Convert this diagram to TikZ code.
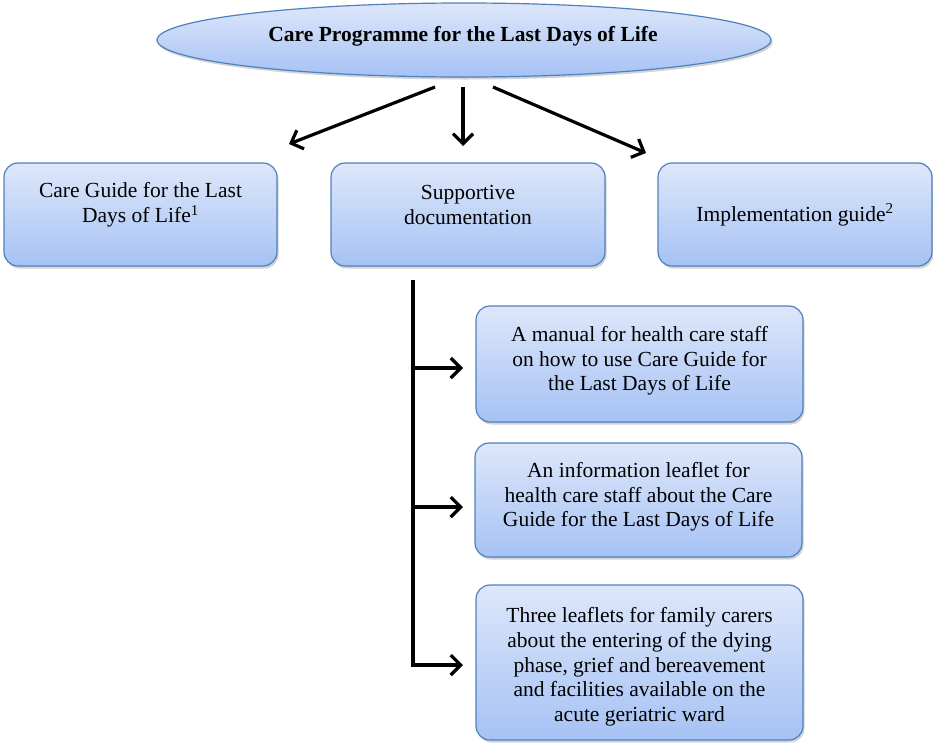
\documentclass[tikz,border=0pt]{standalone}
\usepackage{fontspec}
\setmainfont{Liberation Serif}
\usetikzlibrary{shapes.geometric,shadows,arrows.meta}
\definecolor{bordc}{HTML}{4F81BD}
\definecolor{topc}{HTML}{DDE7FA}
\definecolor{botc}{HTML}{A6C2F4}
\tikzset{
  boxst/.style={draw=bordc, line width=1.2pt, rounded corners=14pt, top color=topc, bottom color=botc,
    drop shadow={shadow xshift=1.5pt, shadow yshift=-2.5pt, opacity=0.35}},
  txt/.style={font=\fontsize{21.5}{24.7}\selectfont, align=center},
  arr/.style={line width=3.2pt, -{Straight Barb[length=10pt,width=20pt,line width=3.2pt]}},
  ln/.style={line width=3.2pt}
}
\begin{document}
\begin{tikzpicture}[x=1pt,y=-1pt]
\useasboundingbox (0,0) rectangle (933,747);
% ellipse
\node[ellipse, draw=bordc, line width=1.2pt, top color=topc, bottom color=botc,
  minimum width=614pt, minimum height=74pt, inner sep=0pt,
  drop shadow={shadow xshift=1.5pt, shadow yshift=-2.5pt, opacity=0.35}] (top) at (464,40) {};
\node[txt, font=\bfseries\fontsize{21.5}{24.7}\selectfont] (toptxt) at (463,36) {Care Programme for the Last Days of Life};
% row boxes
\path[boxst] (4,163) rectangle (277,266);
\node[txt] (b1) at (140.5,205) {Care Guide for the Last\\Days of Life\textsuperscript{1}};
\path[boxst] (331,163) rectangle (605,266);
\node[txt] (b2) at (468,205) {Supportive\\documentation};
\path[boxst] (658,163) rectangle (932,266);
\node[txt] (b3) at (795,215) {Implementation guide\textsuperscript{2}};
% arrows from ellipse
\coordinate (s1) at (435,87); \coordinate (e1) at (289,144);
\coordinate (s2) at (463,87); \coordinate (e2) at (463,146);
\coordinate (s3) at (493,87); \coordinate (e3) at (646,153);
\draw[arr] (s1) -- (e1);
\draw[arr] (s2) -- (e2);
\draw[arr] (s3) -- (e3);
% lower boxes
\path[boxst] (476,306) rectangle (803,422);
\node[txt] (b4) at (639.5,361) {A manual for health care staff\\on how to use Care Guide for\\the Last Days of Life};
\path[boxst] (475,443) rectangle (802,557);
\node[txt] (b5) at (638.5,497) {An information leaflet for\\health care staff about the Care\\Guide for the Last Days of Life};
\path[boxst] (476,585) rectangle (803,740);
\node[txt] (b6) at (639.5,667) {Three leaflets for family carers\\about the entering of the dying\\phase, grief and bereavement\\and facilities available on the\\acute geriatric ward};
% bracket
\coordinate (v1) at (413,280); \coordinate (v2) at (413,666.6);
\coordinate (h1) at (413,368); \coordinate (a1) at (463,368);
\coordinate (h2) at (413,507); \coordinate (a2) at (463,507);
\coordinate (h3) at (413,665); \coordinate (a3) at (463,665);
\draw[ln] (v1) -- (v2);
\draw[arr] (h1) -- (a1);
\draw[arr] (h2) -- (a2);
\draw[arr] (h3) -- (a3);
\end{tikzpicture}
\end{document}
